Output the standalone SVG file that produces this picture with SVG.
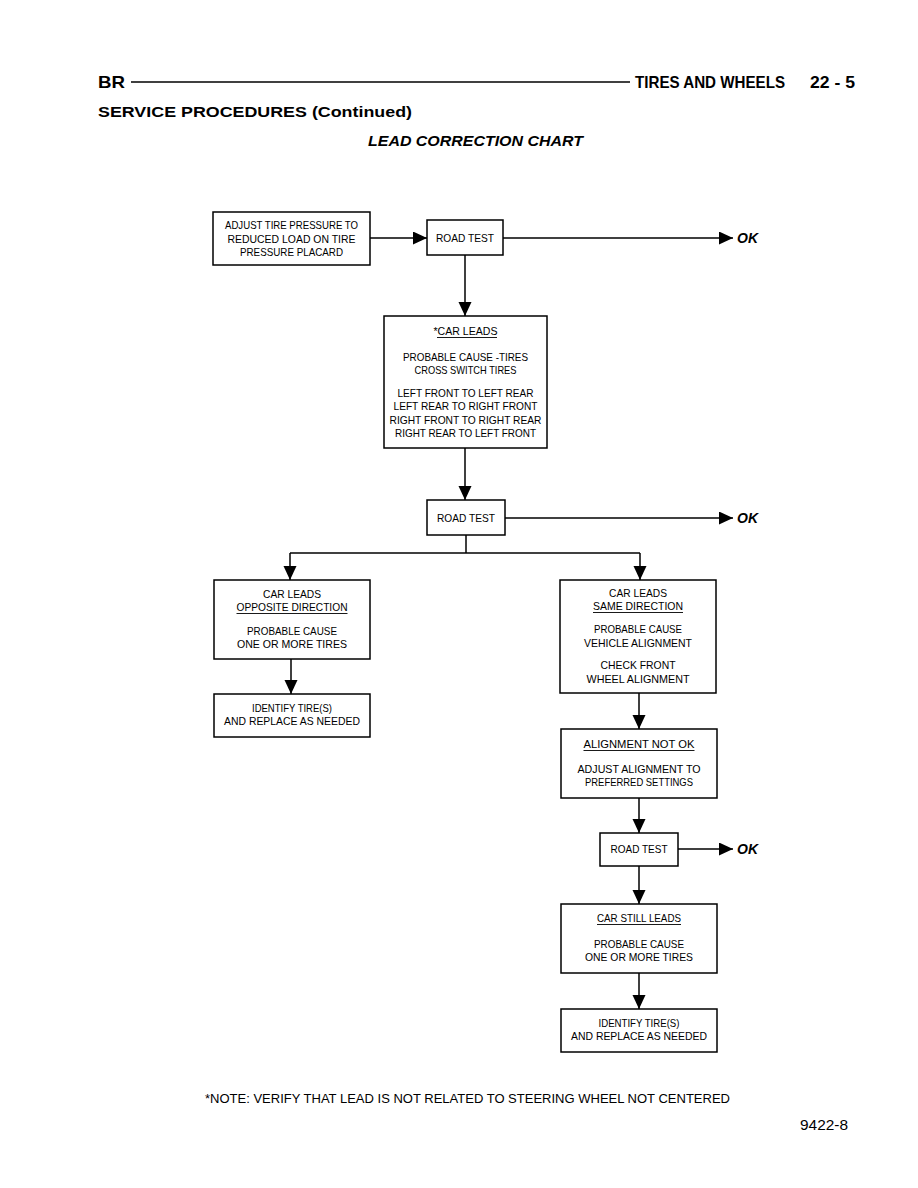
<svg xmlns="http://www.w3.org/2000/svg" width="918" height="1188" viewBox="0 0 918 1188">
<defs>
<marker id="ah" markerUnits="userSpaceOnUse" markerWidth="16" markerHeight="14" refX="14" refY="6.5" orient="auto">
<path d="M0,0 L14,6.5 L0,13 Z" fill="#000"/>
</marker>
<style>
.box{fill:#fff;stroke:#000;stroke-width:1.5}
.t{font-family:"Liberation Sans",Arial,sans-serif;font-size:11.5px;text-anchor:middle;fill:#000}
.c{fill:none;stroke:#000;stroke-width:1.5}
.u{stroke:#000;stroke-width:0.9}
.ok{font-family:"Liberation Sans",Arial,sans-serif;font-size:14px;font-weight:bold;font-style:italic;fill:#000}
.h{font-family:"Liberation Sans",Arial,sans-serif;font-weight:bold;fill:#000}
</style>
</defs>
<rect width="918" height="1188" fill="#fff"/>

<g id="header">
<text class="h" x="98" y="88" font-size="17" textLength="27" lengthAdjust="spacingAndGlyphs">BR</text>
<line x1="131" y1="82" x2="630" y2="82" stroke="#000" stroke-width="1.3"/>
<text class="h" x="635" y="88" font-size="16.5" textLength="150" lengthAdjust="spacingAndGlyphs">TIRES AND WHEELS</text>
<text class="h" x="810" y="88" font-size="16.5" textLength="45" lengthAdjust="spacingAndGlyphs">22 - 5</text>
<text class="h" x="98" y="117" font-size="15" textLength="314" lengthAdjust="spacingAndGlyphs">SERVICE PROCEDURES (Continued)</text>
<text class="h" x="368" y="146" font-size="14" font-style="italic" textLength="215" lengthAdjust="spacingAndGlyphs">LEAD CORRECTION CHART</text>
</g>

<g id="connectors">
<line class="c" x1="370" y1="238" x2="427" y2="238" marker-end="url(#ah)"/>
<line class="c" x1="503" y1="238" x2="733" y2="238" marker-end="url(#ah)"/>
<line class="c" x1="465" y1="255" x2="465" y2="316" marker-end="url(#ah)"/>
<line class="c" x1="465" y1="448" x2="465" y2="500" marker-end="url(#ah)"/>
<line class="c" x1="505" y1="518" x2="733" y2="518" marker-end="url(#ah)"/>
<polyline class="c" points="466,535 466,553"/>
<line class="c" x1="290" y1="553" x2="640" y2="553"/>
<line class="c" x1="290" y1="553" x2="290" y2="580" marker-end="url(#ah)"/>
<line class="c" x1="640" y1="553" x2="640" y2="580" marker-end="url(#ah)"/>
<line class="c" x1="291" y1="659" x2="291" y2="694" marker-end="url(#ah)"/>
<line class="c" x1="639" y1="693" x2="639" y2="729" marker-end="url(#ah)"/>
<line class="c" x1="639" y1="798" x2="639" y2="833" marker-end="url(#ah)"/>
<line class="c" x1="678" y1="849" x2="733" y2="849" marker-end="url(#ah)"/>
<line class="c" x1="639" y1="866" x2="639" y2="904" marker-end="url(#ah)"/>
<line class="c" x1="639" y1="973" x2="639" y2="1009" marker-end="url(#ah)"/>
<text class="ok" x="737" y="243">OK</text>
<text class="ok" x="737" y="523">OK</text>
<text class="ok" x="737" y="854">OK</text>
</g>

<g id="adjust">
<rect class="box" x="213" y="212" width="157" height="53"/>
<text class="t" x="291.5" y="229" textLength="133" lengthAdjust="spacingAndGlyphs">ADJUST TIRE PRESSURE TO</text>
<text class="t" x="291.5" y="243" textLength="128" lengthAdjust="spacingAndGlyphs">REDUCED LOAD ON TIRE</text>
<text class="t" x="291.5" y="256" textLength="103" lengthAdjust="spacingAndGlyphs">PRESSURE PLACARD</text>
</g>

<g id="roadtest1">
<rect class="box" x="427" y="220" width="76" height="35"/>
<text class="t" x="465" y="242" textLength="58" lengthAdjust="spacingAndGlyphs">ROAD TEST</text>
</g>

<g id="carleads">
<rect class="box" x="384" y="316" width="163" height="132"/>
<text class="t" x="465.5" y="335" textLength="64" lengthAdjust="spacingAndGlyphs">*CAR LEADS</text>
<line class="u" x1="437" y1="337.5" x2="497" y2="337.5"/>
<text class="t" x="465.5" y="361" textLength="125" lengthAdjust="spacingAndGlyphs">PROBABLE CAUSE -TIRES</text>
<text class="t" x="465.5" y="374" textLength="102" lengthAdjust="spacingAndGlyphs">CROSS SWITCH TIRES</text>
<text class="t" x="465.5" y="397" textLength="136" lengthAdjust="spacingAndGlyphs">LEFT FRONT TO LEFT REAR</text>
<text class="t" x="465.5" y="410" textLength="144" lengthAdjust="spacingAndGlyphs">LEFT REAR TO RIGHT FRONT</text>
<text class="t" x="465.5" y="424" textLength="152" lengthAdjust="spacingAndGlyphs">RIGHT FRONT TO RIGHT REAR</text>
<text class="t" x="465.5" y="437" textLength="141" lengthAdjust="spacingAndGlyphs">RIGHT REAR TO LEFT FRONT</text>
</g>

<g id="roadtest2">
<rect class="box" x="427" y="500" width="78" height="35"/>
<text class="t" x="466" y="522" textLength="58" lengthAdjust="spacingAndGlyphs">ROAD TEST</text>
</g>

<g id="opposite">
<rect class="box" x="214" y="580" width="156" height="79"/>
<text class="t" x="292" y="598" textLength="58" lengthAdjust="spacingAndGlyphs">CAR LEADS</text>
<text class="t" x="292" y="611" textLength="111" lengthAdjust="spacingAndGlyphs">OPPOSITE DIRECTION</text>
<line class="u" x1="236.5" y1="613.5" x2="347.5" y2="613.5"/>
<text class="t" x="292" y="635" textLength="90" lengthAdjust="spacingAndGlyphs">PROBABLE CAUSE</text>
<text class="t" x="292" y="648" textLength="110" lengthAdjust="spacingAndGlyphs">ONE OR MORE TIRES</text>
</g>

<g id="identify-left">
<rect class="box" x="214" y="694" width="156" height="43"/>
<text class="t" x="292" y="712" textLength="80" lengthAdjust="spacingAndGlyphs">IDENTIFY TIRE(S)</text>
<text class="t" x="292" y="725" textLength="136" lengthAdjust="spacingAndGlyphs">AND REPLACE AS NEEDED</text>
</g>

<g id="same">
<rect class="box" x="560" y="580" width="156" height="113"/>
<text class="t" x="638" y="597" textLength="58" lengthAdjust="spacingAndGlyphs">CAR LEADS</text>
<text class="t" x="638" y="610" textLength="90" lengthAdjust="spacingAndGlyphs">SAME DIRECTION</text>
<line class="u" x1="593" y1="612.5" x2="683" y2="612.5"/>
<text class="t" x="638" y="633" textLength="88" lengthAdjust="spacingAndGlyphs">PROBABLE CAUSE</text>
<text class="t" x="638" y="647" textLength="108" lengthAdjust="spacingAndGlyphs">VEHICLE ALIGNMENT</text>
<text class="t" x="638" y="669" textLength="75" lengthAdjust="spacingAndGlyphs">CHECK FRONT</text>
<text class="t" x="638" y="683" textLength="103" lengthAdjust="spacingAndGlyphs">WHEEL ALIGNMENT</text>
</g>

<g id="alignment">
<rect class="box" x="561" y="729" width="156" height="69"/>
<text class="t" x="639" y="748" textLength="111" lengthAdjust="spacingAndGlyphs">ALIGNMENT NOT OK</text>
<line class="u" x1="583.5" y1="750.5" x2="694.5" y2="750.5"/>
<text class="t" x="639" y="773" textLength="123" lengthAdjust="spacingAndGlyphs">ADJUST ALIGNMENT TO</text>
<text class="t" x="639" y="786" textLength="108" lengthAdjust="spacingAndGlyphs">PREFERRED SETTINGS</text>
</g>

<g id="roadtest3">
<rect class="box" x="600" y="833" width="78" height="33"/>
<text class="t" x="639" y="853" textLength="57" lengthAdjust="spacingAndGlyphs">ROAD TEST</text>
</g>

<g id="stillleads">
<rect class="box" x="561" y="904" width="156" height="69"/>
<text class="t" x="639" y="922" textLength="84" lengthAdjust="spacingAndGlyphs">CAR STILL LEADS</text>
<line class="u" x1="597" y1="924.5" x2="681" y2="924.5"/>
<text class="t" x="639" y="948" textLength="90" lengthAdjust="spacingAndGlyphs">PROBABLE CAUSE</text>
<text class="t" x="639" y="961" textLength="108" lengthAdjust="spacingAndGlyphs">ONE OR MORE TIRES</text>
</g>

<g id="identify-right">
<rect class="box" x="561" y="1009" width="156" height="43"/>
<text class="t" x="639" y="1027" textLength="81" lengthAdjust="spacingAndGlyphs">IDENTIFY TIRE(S)</text>
<text class="t" x="639" y="1040" textLength="136" lengthAdjust="spacingAndGlyphs">AND REPLACE AS NEEDED</text>
</g>

<g id="footer">
<text x="205" y="1103" font-family="Liberation Sans, Arial, sans-serif" font-size="13.5" fill="#000" textLength="525" lengthAdjust="spacingAndGlyphs">*NOTE: VERIFY THAT LEAD IS NOT RELATED TO STEERING WHEEL NOT CENTERED</text>
<text x="800" y="1130" font-family="Liberation Sans, Arial, sans-serif" font-size="14" fill="#000" textLength="48" lengthAdjust="spacingAndGlyphs">9422-8</text>
</g>
</svg>
